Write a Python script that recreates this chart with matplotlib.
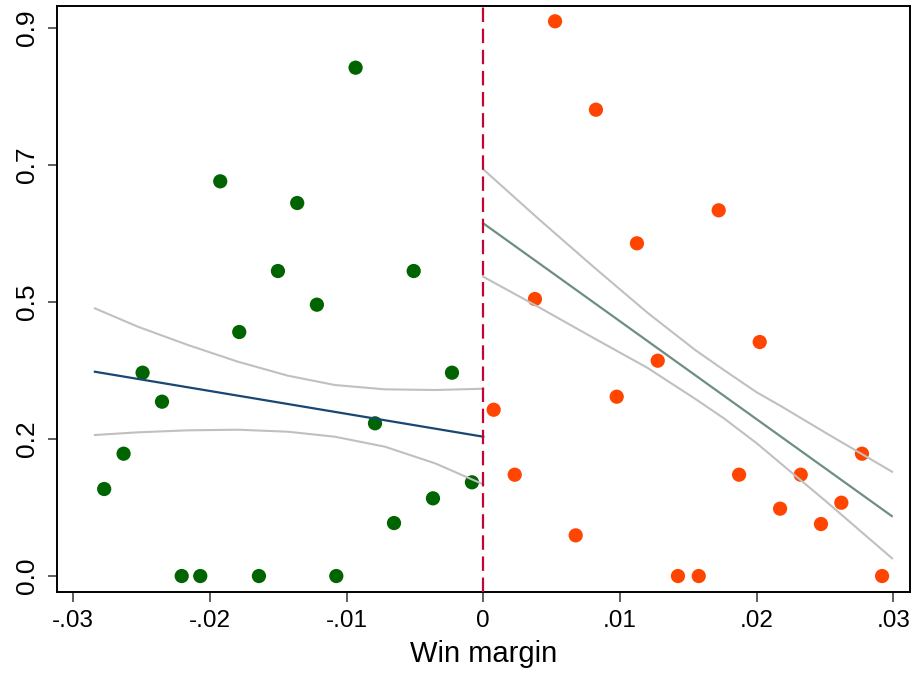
import matplotlib
matplotlib.use("Agg")
import matplotlib.pyplot as plt

plt.rcParams['font.family'] = ['Liberation Sans', 'DejaVu Sans']

# Binned means, left of cutoff (losers)
left_x = [-0.02773, -0.02631, -0.02492, -0.02350, -0.02206, -0.02070, -0.01924,
          -0.01785, -0.01641, -0.01502, -0.01361, -0.01217, -0.01075, -0.00934,
          -0.00792, -0.00653, -0.00509, -0.00368, -0.00229, -0.00083]
left_y = [0.1429, 0.2009, 0.3339, 0.2863, 0.0, 0.0, 0.6482,
          0.4007, 0.0, 0.5009, 0.6126, 0.4456, 0.0, 0.8348,
          0.2508, 0.0870, 0.5009, 0.1276, 0.3339, 0.1539]

# Binned means, right of cutoff (winners)
right_x = [0.00076, 0.00230, 0.00378, 0.00525, 0.00676, 0.00824, 0.00976,
           0.01124, 0.01276, 0.01424, 0.01576, 0.01722, 0.01871, 0.02022,
           0.02171, 0.02322, 0.02470, 0.02619, 0.02770, 0.02917]
right_y = [0.2731, 0.1664, 0.4549, 0.9110, 0.0668, 0.7658, 0.2945,
           0.5464, 0.3536, 0.0, 0.0, 0.6006, 0.1664, 0.3843,
           0.1106, 0.1664, 0.0854, 0.1204, 0.2009, 0.0]

# Linear fits
left_fit_x = [-0.02841, 0.0]
left_fit_y = [0.3355, 0.2288]
right_fit_x = [0.0, 0.02988]
right_fit_y = [0.5792, 0.0985]

# Confidence bands
left_ci_x = [-0.02841, -0.02526, -0.02160, -0.01794, -0.01429, -0.01086, -0.00720, -0.00353, 0.0]
left_ci_hi = [0.4396, 0.4094, 0.3794, 0.3519, 0.3290, 0.3137, 0.3066, 0.3055, 0.3076]
left_ci_lo = [0.2316, 0.2360, 0.2393, 0.2403, 0.2370, 0.2288, 0.2124, 0.1851, 0.1506]

right_ci_x = [0.0, 0.004, 0.0081, 0.012, 0.0155, 0.0176, 0.020, 0.0217, 0.0251, 0.0299]
right_ci_hi = [0.6679, 0.5873, 0.5070, 0.4326, 0.3712, 0.3383, 0.3017, 0.2800, 0.2344, 0.1713]
right_ci_lo = [0.4915, 0.4423, 0.3905, 0.3420, 0.2910, 0.2590, 0.2180, 0.1860, 0.1220, 0.0291]

x_ticks = [-0.03, -0.02, -0.01, 0.0, 0.01, 0.02, 0.03]
x_labels = ["-.03", "-.02", "-.01", "0", ".01", ".02", ".03"]
y_ticks = [0.0, 0.225, 0.45, 0.675, 0.9]
y_labels = ["0.0", "0.2", "0.5", "0.7", "0.9"]

fig = plt.figure(figsize=(9.15, 6.79), dpi=100)
ax = fig.add_axes([0.0626, 0.1286, 0.9319, 0.8630])

ax.scatter(left_x, left_y, s=105, color="#006400", edgecolors="none", zorder=2)
ax.scatter(right_x, right_y, s=105, color="#FF4500", edgecolors="none", zorder=2)

gray = "#C0C0C0"
ax.plot(left_ci_x, left_ci_hi, color=gray, lw=1.5, zorder=3)
ax.plot(left_ci_x, left_ci_lo, color=gray, lw=1.5, zorder=3)
ax.plot(right_ci_x, right_ci_hi, color=gray, lw=1.5, zorder=3)
ax.plot(right_ci_x, right_ci_lo, color=gray, lw=1.5, zorder=3)

ax.plot(left_fit_x, left_fit_y, color="#1A476F", lw=1.6, zorder=4)
ax.plot(right_fit_x, right_fit_y, color="#6E8E84", lw=1.6, zorder=4)

ax.axvline(0, color="#C10534", lw=1.6, dashes=(6.5, 3.0), zorder=5)

ax.set_xlim(-0.03116, 0.03121)
ax.set_ylim(-0.0257, 0.9366)

ax.set_xticks(x_ticks)
ax.set_xticklabels(x_labels)
ax.set_yticks(y_ticks)
ax.set_yticklabels(y_labels, rotation=90, va="center")

ax.tick_params(axis="x", length=7.2, width=1.1, color="#333333", labelsize=17.5, pad=6)
ax.tick_params(axis="y", length=6.5, width=1.1, color="#333333", labelsize=19, pad=7)

for sp in ax.spines.values():
    sp.set_color("black")
    sp.set_linewidth(1.4)

ax.set_xlabel("Win margin", fontsize=21, labelpad=6)

fig.savefig("out.png", dpi=100)
